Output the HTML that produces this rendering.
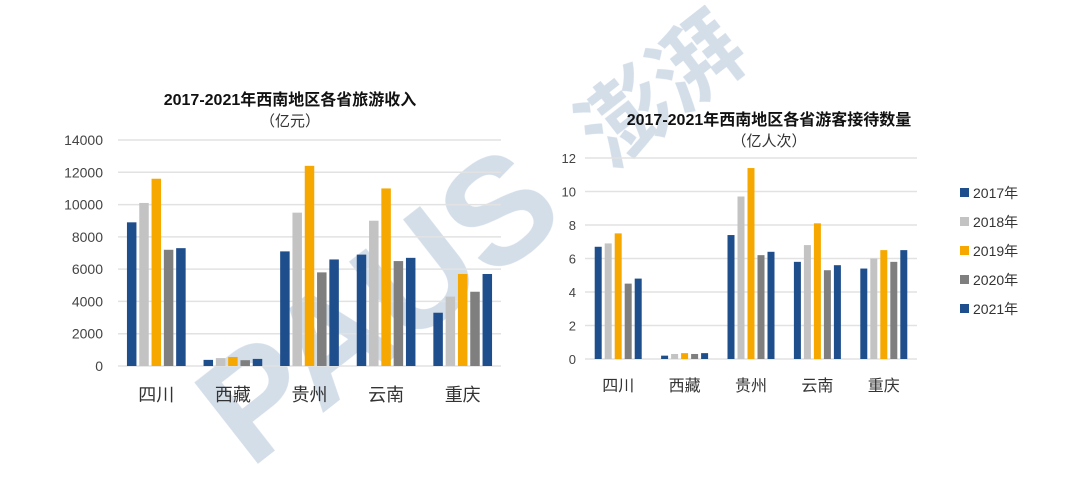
<!DOCTYPE html>
<html><head><meta charset="utf-8">
<style>
body{margin:0;background:#fff;width:1080px;height:498px;overflow:hidden;font-family:"Liberation Sans","Noto Sans CJK SC",sans-serif;}
svg{position:absolute;left:0;top:0}
</style></head>
<body>
<svg id="c" width="1080" height="498">
<g id="wm" opacity="0.45">
<text x="0" y="0" transform="translate(250,470) rotate(-38)" font-size="150" font-weight="bold" fill="#9fb6cf" font-family="Liberation Sans, sans-serif">PAUS</text>
<text x="0" y="0" transform="translate(610,170) rotate(-38)" font-size="90" font-weight="bold" fill="#9fb6cf" font-family="Noto Sans CJK SC, sans-serif">澎湃</text>
</g>
</svg>
<script>
const categories=["四川","西藏","贵州","云南","重庆"];
const years=["2017年","2018年","2019年","2020年","2021年"];
const colors=["#1f4e8c","#c3c3c3","#f6a800","#7f7f7f","#1f4e8c"];
const income2017=[8900,380,7100,6900,3300];
const income2018=[10100,490,9500,9000,4300];
const income2019=[11600,560,12400,11000,5700];
const income2020=[7200,360,5800,6500,4600];
const income2021=[7300,440,6600,6700,5700];
const incomeTicks=[0,2000,4000,6000,8000,10000,12000,14000];
const visit2017=[6.7,0.2,7.4,5.8,5.4];
const visit2018=[6.9,0.3,9.7,6.8,6.0];
const visit2019=[7.5,0.35,11.4,8.1,6.5];
const visit2020=[4.5,0.3,6.2,5.3,5.8];
const visit2021=[4.8,0.35,6.4,5.6,6.5];
const visitTicks=[0,2,4,6,8,10,12];

const svg=document.getElementById('c');
const NS='http://www.w3.org/2000/svg';
function el(t,a,p){const e=document.createElementNS(NS,t);for(const k in a)e.setAttribute(k,a[k]);(p||svg).appendChild(e);return e;}

function chart(cfg){
  const g=el('g',{});
  
  
  const y=v=>cfg.y0-(v/cfg.max)*(cfg.y0-cfg.yTop);
  const gw=(cfg.x1-cfg.x0)/categories.length;
  cfg.ticks.forEach(t=>{
    const ln=el('line',{x1:cfg.x0,x2:cfg.x1,y1:y(t),y2:y(t),stroke:'#e2e2e2','stroke-width':1.5},g);
    
    
    const tx=el('text',{x:cfg.tickX,y:y(t)+5,'text-anchor':'end','font-size':cfg.tickFs,fill:'#444'},g);
    tx.textContent=t;
    
    
  });
  cfg.series.forEach((s,si)=>{
    s.forEach((v,ci)=>{
      const cx=cfg.x0+gw*(ci+0.5)+(si-2)*cfg.step;
      const r=el('rect',{x:cx-cfg.bw/2,y:y(v),width:cfg.bw,height:cfg.y0-y(v),fill:colors[si]},g);
      
      
    });
  });
  categories.forEach((c,ci)=>{
    const tx=el('text',{x:cfg.x0+gw*(ci+0.5),y:cfg.catY,'text-anchor':'middle','font-size':cfg.catFs,fill:'#333'},g);
    tx.textContent=c;
    
    
  });
  const t1=el('text',{x:cfg.titleX,y:cfg.titleY,'text-anchor':'middle','font-size':16,'font-weight':'bold',fill:'#111'},g);
  t1.textContent=cfg.title;
  
  
  const t2=el('text',{x:cfg.titleX,y:cfg.titleY+21,'text-anchor':'middle','font-size':15,fill:'#333'},g);
  t2.textContent=cfg.sub;
  
  
}
chart({name:'income-chart',x0:118,x1:501,y0:366,yTop:140,max:14000,ticks:incomeTicks,tickX:103,tickFs:14,
  series:[income2017,income2018,income2019,income2020,income2021],step:12.3,bw:9.5,catY:401,catFs:18,
  title:'2017-2021年西南地区各省旅游收入',sub:'（亿元）',titleX:290,titleY:105});
chart({name:'visitors-chart',x0:585,x1:917,y0:359,yTop:158,max:12,ticks:visitTicks,tickX:576,tickFs:13,
  series:[visit2017,visit2018,visit2019,visit2020,visit2021],step:10,bw:7,catY:391,catFs:16,
  title:'2017-2021年西南地区各省游客接待数量',sub:'（亿人次）',titleX:769,titleY:125});
const lg=el('g',{});


years.forEach((yr,i)=>{
  const yy=193+i*29;
  const r=el('rect',{x:960,y:yy-5,width:9,height:9,fill:colors[i]},lg);
  
  
  const t=el('text',{x:973,y:yy+5,'font-size':14,fill:'#333'},lg);
  t.textContent=yr;
  
  
});
</script>
</body></html>
